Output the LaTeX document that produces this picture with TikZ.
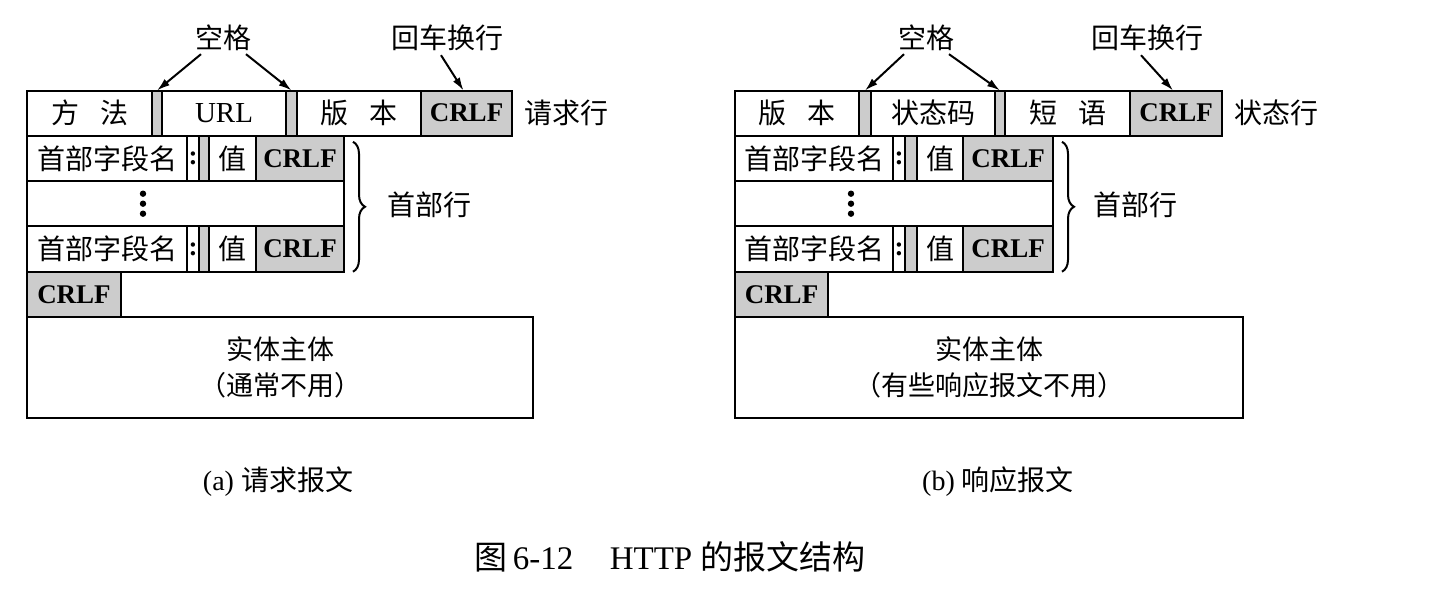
\documentclass[tikz,border=0pt]{standalone}
\usepackage{fontspec}
\setmainfont{Liberation Serif}
\newfontfamily\cjk{Noto Sans CJK SC}
\usetikzlibrary{positioning,decorations.pathreplacing,arrows.meta}

\tikzset{
  cell/.style={draw, line width=2pt, inner sep=0pt, outer sep=0pt, anchor=north west,
    minimum height=45.3pt, font=\cjk\fontsize{28}{30}\selectfont},
  shade/.style={cell, fill=black!20},
  crlf/.style={shade, font=\bfseries\fontsize{27}{30}\selectfont},
  colon/.style={cell, font=\bfseries\fontsize{27}{30}\selectfont},
  tag/.style={inner sep=0pt, font=\cjk\fontsize{28}{30}\selectfont},
  captxt/.style={inner sep=0pt, font=\fontsize{28}{30}\selectfont},
  pointer/.style={-{Latex[length=13pt,width=8pt]}, line width=2pt},
  curly/.style={decorate, decoration={brace, amplitude=12pt}, line width=2pt},
}

\begin{document}
\begin{tikzpicture}[x=1pt, y=-1pt]
\useasboundingbox (0,0) rectangle (1432,589);

% (a) request message: request line
\node[cell, minimum width=125pt] (fa) at (27,90.5) {方\hspace{0.75em}法};
\node[shade, minimum width=10pt, right=0pt of fa] (sa1) {};
\node[cell, minimum width=124pt, right=0pt of sa1, font=\fontsize{29}{30}\selectfont] (ua) {URL};
\node[shade, minimum width=11pt, right=0pt of ua] (sa2) {};
\node[cell, minimum width=124pt, right=0pt of sa2] (va) {版\hspace{0.75em}本};
\node[crlf, minimum width=91pt, right=0pt of va] (ca) {CRLF};
\node[tag, right=12pt of ca] (qa) {请求行};

% labels above the request line
\node[tag] (ka) at (223,38) {空格};
\node[tag] (ha) at (447,38) {回车换行};
\draw[pointer] ([xshift=-22pt,yshift=-3pt]ka.south) -- (sa1.north);
\draw[pointer] ([xshift=23pt,yshift=-3pt]ka.south) -- (sa2.north);
\draw[pointer] ([xshift=-6pt,yshift=-4pt]ha.south) -- ([xshift=-3pt]ca.north);

% header lines
\foreach \r/\y in {1/135.8,3/226.4}{
  \node[cell, minimum width=160pt] (na\r) at (27,\y) {首部字段名};
  \node[colon, minimum width=12pt, right=0pt of na\r] (la\r) {:};
  \node[shade, minimum width=10pt, right=0pt of la\r] (ga\r) {};
  \node[cell, minimum width=47pt, right=0pt of ga\r] (wa\r) {值};
  \node[crlf, minimum width=88pt, right=0pt of wa\r] (ca\r) {CRLF};
}
\node[cell, minimum width=317pt] (da) at (27,181.1) {};
\foreach \dy in {-10,0,10}
  \fill (143,203.7+\dy) circle (3.2pt);
\draw[curly] ([xshift=9pt,yshift=-6pt]ca1.north east) -- ([xshift=9pt]ca3.south east);
\node[tag, anchor=west] (hla) at (387,205) {首部行};

% blank line and entity body
\node[crlf, minimum width=94pt] (ea) at (27,271.7) {CRLF};
\node[cell, minimum width=506pt, minimum height=101pt, align=center,
  font=\cjk\fontsize{27}{36}\selectfont] (ba) at (27,317) {实体主体\\（通常不用）};
\node[captxt] (capa) at (278,482) {(a) {\cjk 请求报文}};

% (b) response message: status line
\node[cell, minimum width=124pt] (vb) at (735,90.5) {版\hspace{0.75em}本};
\node[shade, minimum width=12pt, right=0pt of vb] (sb1) {};
\node[cell, minimum width=124pt, right=0pt of sb1] (zb) {状态码};
\node[shade, minimum width=10pt, right=0pt of zb] (sb2) {};
\node[cell, minimum width=125pt, right=0pt of sb2] (pb) {短\hspace{0.75em}语};
\node[crlf, minimum width=92pt, right=0pt of pb] (cb) {CRLF};
\node[tag, right=12pt of cb] (qb) {状态行};

% labels above the status line
\node[tag] (kb) at (926,38) {空格};
\node[tag] (hb) at (1147,38) {回车换行};
\draw[pointer] ([xshift=-22pt,yshift=-3pt]kb.south) -- (sb1.north);
\draw[pointer] ([xshift=23pt,yshift=-3pt]kb.south) -- (sb2.north);
\draw[pointer] ([xshift=-6pt,yshift=-4pt]hb.south) -- ([xshift=-3pt]cb.north);

% header lines
\foreach \r/\y in {1/135.8,3/226.4}{
  \node[cell, minimum width=158pt] (nb\r) at (735,\y) {首部字段名};
  \node[colon, minimum width=12pt, right=0pt of nb\r] (lb\r) {:};
  \node[shade, minimum width=12pt, right=0pt of lb\r] (gb\r) {};
  \node[cell, minimum width=46pt, right=0pt of gb\r] (wb\r) {值};
  \node[crlf, minimum width=90pt, right=0pt of wb\r] (cb\r) {CRLF};
}
\node[cell, minimum width=318pt] (db) at (735,181.1) {};
\foreach \dy in {-10,0,10}
  \fill (851,203.7+\dy) circle (3.2pt);
\draw[curly] ([xshift=9pt,yshift=-6pt]cb1.north east) -- ([xshift=9pt]cb3.south east);
\node[tag, anchor=west] (hlb) at (1093,205) {首部行};

% blank line and entity body
\node[crlf, minimum width=93pt] (eb) at (735,271.7) {CRLF};
\node[cell, minimum width=508pt, minimum height=101pt, align=center,
  font=\cjk\fontsize{27}{36}\selectfont] (bb) at (735,317) {实体主体\\（有些响应报文不用）};
\node[captxt] (capb) at (998,482) {(b) {\cjk 响应报文}};

% figure caption
\node[captxt, font=\fontsize{33}{35}\selectfont] (fig) at (670,557)
  {{\cjk 图}\,6-12\hspace{1.1em}HTTP {\cjk 的报文结构}};
\end{tikzpicture}
\end{document}
